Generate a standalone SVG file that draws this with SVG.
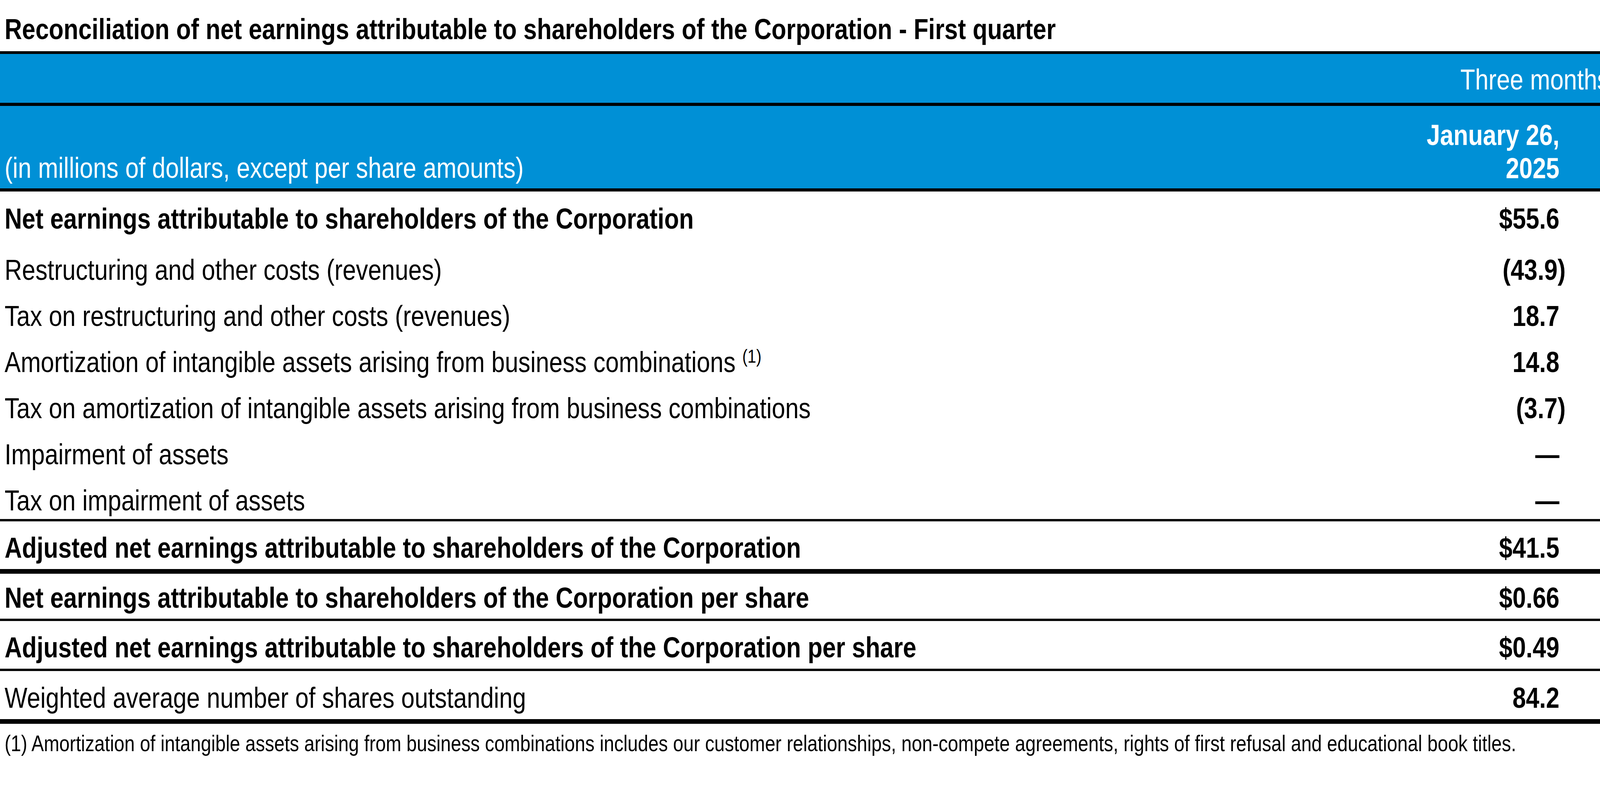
<svg xmlns="http://www.w3.org/2000/svg" width="4496" height="2070" viewBox="0 0 4496 2070">
<style>
text{font-family:"Liberation Sans",Arial,sans-serif;fill:#000}
.b{font-weight:bold}
.t{font-size:74px}
.h{font-size:74px;fill:#fff}
.e{text-anchor:end}
.f{font-size:57px}
</style>
<rect width="4496" height="2070" fill="#fff"/>
<g id="bands">
<rect x="0" y="138" width="4496" height="126" fill="#0090d6"/>
<rect x="0" y="270" width="4496" height="214" fill="#0090d6"/>
</g>
<g id="rules" fill="#000">
<rect x="0" y="131" width="4496" height="7"/>
<rect x="0" y="263" width="4496" height="8"/>
<rect x="0" y="482" width="4496" height="8"/>
<rect x="0" y="1328" width="4496" height="6"/>
<rect x="0" y="1456" width="4496" height="12"/>
<rect x="0" y="1583" width="4496" height="6"/>
<rect x="0" y="1711" width="4496" height="6"/>
<rect x="0" y="1840" width="4496" height="12"/>
</g>
<g id="texts" transform="scale(0.835 1)">
<text class="b" x="14" y="100" font-size="74">Reconciliation of net earnings attributable to shareholders of the Corporation - First quarter</text>
<text class="h e" x="5160" y="229">Three months ended</text>
<text class="h" x="14" y="455">(in millions of dollars, except per share amounts)</text>
<text class="h b e" x="4781" y="371">January 26,</text>
<text class="h b e" x="4781" y="456">2025</text>
<text class="h e" x="5359" y="371">January 28,</text>
<text class="h e" x="5359" y="456">2024</text>
<g class="t">
<text class="b" x="14" y="585">Net earnings attributable to shareholders of the Corporation</text>
<text class="b e" x="4781" y="585">$55.6</text><text class="e" x="5359" y="585">$13.9</text>
<text x="14" y="716">Restructuring and other costs (revenues)</text>
<text class="b e" x="4800" y="716">(43.9)</text><text class="e" x="5359" y="716">11.3</text>
<text x="14" y="834">Tax on restructuring and other costs (revenues)</text>
<text class="b e" x="4781" y="834">18.7</text><text class="e" x="5378" y="834">(2.8)</text>
<text x="14" y="952">Amortization of intangible assets arising from business combinations <tspan font-size="48" dy="-24">(1)</tspan></text>
<text class="b e" x="4781" y="952">14.8</text><text class="e" x="5359" y="952">17.8</text>
<text x="14" y="1070">Tax on amortization of intangible assets arising from business combinations</text>
<text class="b e" x="4800" y="1070">(3.7)</text><text class="e" x="5378" y="1070">(4.4)</text>
<text x="14" y="1188">Impairment of assets</text>
<text class="b e" x="4781" y="1188">—</text><text class="e" x="5359" y="1188">2.1</text>
<text x="14" y="1306">Tax on impairment of assets</text>
<text class="b e" x="4781" y="1306">—</text><text class="e" x="5378" y="1306">(0.5)</text>
<text class="b" x="14" y="1427">Adjusted net earnings attributable to shareholders of the Corporation</text>
<text class="b e" x="4781" y="1427">$41.5</text><text class="e" x="5359" y="1427">$37.4</text>
<text class="b" x="14" y="1555">Net earnings attributable to shareholders of the Corporation per share</text>
<text class="b e" x="4781" y="1555">$0.66</text><text class="e" x="5359" y="1555">$0.16</text>
<text class="b" x="14" y="1682">Adjusted net earnings attributable to shareholders of the Corporation per share</text>
<text class="b e" x="4781" y="1682">$0.49</text><text class="e" x="5359" y="1682">$0.43</text>
<text x="14" y="1811">Weighted average number of shares outstanding</text>
<text class="b e" x="4781" y="1811">84.2</text><text class="e" x="5359" y="1811">86.6</text>
</g>
<text class="f" x="14" y="1922">(1) Amortization of intangible assets arising from business combinations includes our customer relationships, non-compete agreements, rights of first refusal and educational book titles.</text>
</g>
</svg>
